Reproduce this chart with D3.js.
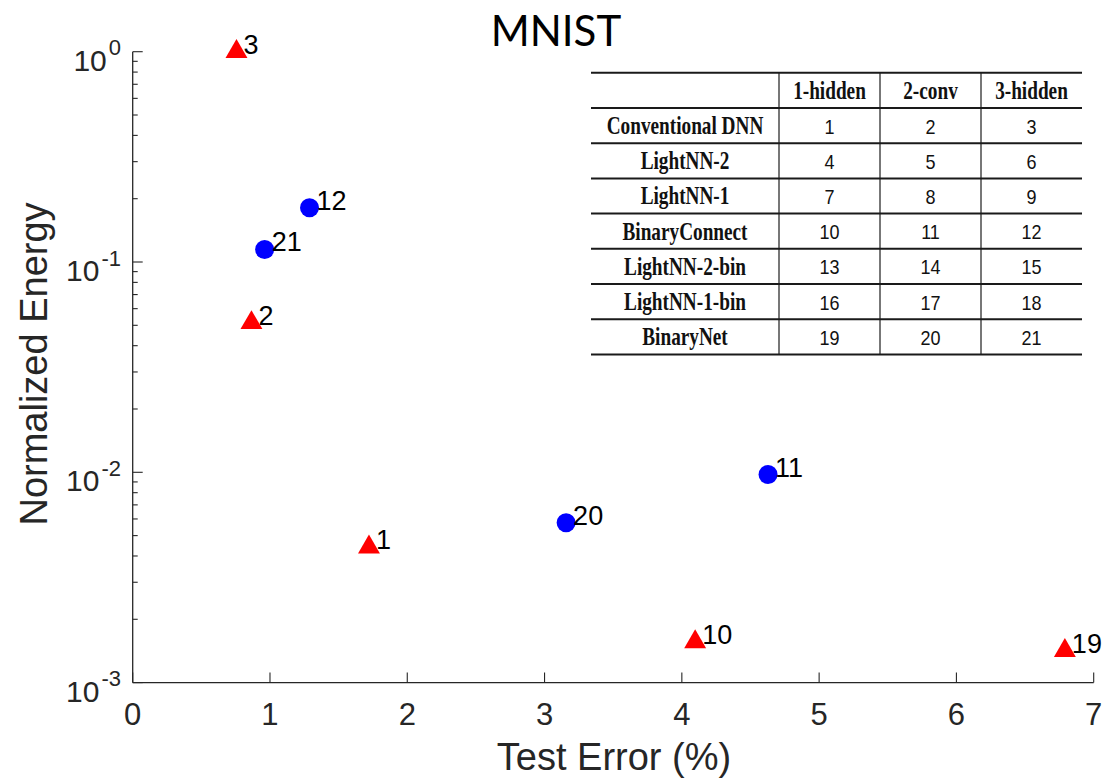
<!DOCTYPE html>
<html>
<head>
<meta charset="utf-8">
<script src="https://cdn.jsdelivr.net/npm/d3@7/dist/d3.min.js"></script>
<style>
  body { margin: 0; background: #fff; }
  svg { display: block; }
</style>
</head>
<body>
<div id="chart"></div>
<script>
// scatter points: label, test error (%), normalized energy
var triIds    = [3, 2, 1, 10, 19];
var triError  = [0.756, 0.865, 1.721, 4.097, 6.79];
var triEnergy = [1.0, 0.0514, 0.00441, 0.00156, 0.00142];

var dotIds    = [12, 21, 20, 11];
var dotError  = [1.288, 0.961, 3.157, 4.628];
var dotEnergy = [0.181, 0.1147, 0.00575, 0.00976];

var xTicks = [0, 1, 2, 3, 4, 5, 6, 7];
var yExps  = [0, -1, -2, -3];

// legend table
var tableCols = ["1-hidden", "2-conv", "3-hidden"];
var tableRows = ["Conventional DNN", "LightNN-2", "LightNN-1", "BinaryConnect",
                 "LightNN-2-bin", "LightNN-1-bin", "BinaryNet"];
var tableIds  = [[1, 2, 3], [4, 5, 6], [7, 8, 9], [10, 11, 12],
                 [13, 14, 15], [16, 17, 18], [19, 20, 21]];

var W = 1104, H = 778;
var axisColor = "#262626";
var sans = "'Liberation Sans', Arial, Helvetica, sans-serif";

var svg = d3.select("#chart")
            .append("svg")
            .attr("width", W)
            .attr("height", H);

var x = d3.scaleLinear().domain([0, 7]).range([132.7, 1093.7]);
var y = d3.scaleLog().domain([1e-3, 1]).range([682.6, 51.7]);

// axes lines
svg.append("line")
    .attr("x1", x(0)).attr("x2", x(7))
    .attr("y1", y(1e-3)).attr("y2", y(1e-3))
    .attr("stroke", axisColor).attr("stroke-width", 1.3);
svg.append("line")
    .attr("x1", x(0)).attr("x2", x(0))
    .attr("y1", y(1e-3)).attr("y2", y(1))
    .attr("stroke", axisColor).attr("stroke-width", 1.3);

// x ticks (inward)
svg.selectAll("line.xtick")
    .data(xTicks)
    .enter()
    .append("line")
    .attr("class", "xtick")
    .attr("x1", function(d) { return x(d); })
    .attr("x2", function(d) { return x(d); })
    .attr("y1", y(1e-3))
    .attr("y2", y(1e-3) - 10)
    .attr("stroke", axisColor).attr("stroke-width", 1.1);

svg.selectAll("text.xlab")
    .data(xTicks)
    .enter()
    .append("text")
    .attr("class", "xlab")
    .attr("x", function(d) { return x(d); })
    .attr("y", y(1e-3) + 42)
    .attr("text-anchor", "middle")
    .attr("font-family", sans)
    .attr("font-size", "31px")
    .attr("fill", axisColor)
    .text(function(d) { return d; });

// y ticks: majors and minors per decade
var yMinor = [];
yExps.forEach(function(e) {
    if (e === 0) return;
    for (var m = 2; m <= 9; m++) yMinor.push(m * Math.pow(10, e));
});

svg.selectAll("line.ymajor")
    .data(yExps)
    .enter()
    .append("line")
    .attr("class", "ymajor")
    .attr("x1", x(0)).attr("x2", x(0) + 10)
    .attr("y1", function(d) { return y(Math.pow(10, d)); })
    .attr("y2", function(d) { return y(Math.pow(10, d)); })
    .attr("stroke", axisColor).attr("stroke-width", 1.1);

svg.selectAll("line.yminor")
    .data(yMinor)
    .enter()
    .append("line")
    .attr("class", "yminor")
    .attr("x1", x(0)).attr("x2", x(0) + 5)
    .attr("y1", function(d) { return y(d); })
    .attr("y2", function(d) { return y(d); })
    .attr("stroke", axisColor).attr("stroke-width", 1.1);

var ylab = svg.selectAll("text.ylab")
    .data(yExps)
    .enter()
    .append("text")
    .attr("class", "ylab")
    .attr("x", 121)
    .attr("y", function(d) { return y(Math.pow(10, d)) + 19; })
    .attr("text-anchor", "end")
    .attr("font-family", sans)
    .attr("font-size", "30px")
    .attr("fill", axisColor);
ylab.append("tspan")
    .attr("font-size", "30px")
    .text("10");
ylab.append("tspan")
    .attr("font-size", "22px")
    .attr("dx", 2)
    .attr("dy", -15.5)
    .text(function(d) { return d; });

// axis titles
svg.append("text")
    .attr("x", 614)
    .attr("y", 770)
    .attr("text-anchor", "middle")
    .attr("font-family", sans)
    .attr("font-size", "38px")
    .attr("fill", axisColor)
    .text("Test Error (%)");

svg.append("text")
    .attr("transform", "translate(46.5,364) rotate(-90)")
    .attr("text-anchor", "middle")
    .attr("font-family", sans)
    .attr("font-size", "38px")
    .attr("fill", axisColor)
    .text("Normalized Energy");

svg.append("text")
    .attr("x", 556)
    .attr("y", 46)
    .attr("text-anchor", "middle")
    .attr("font-family", "Lato, 'Open Sans', sans-serif")
    .attr("font-size", "42px")
    .attr("fill", "#000")
    .text("MNIST");

// markers
var tri = triIds.map(function(id, i) { return {id: id, e: triError[i], v: triEnergy[i]}; });
var dot = dotIds.map(function(id, i) { return {id: id, e: dotError[i], v: dotEnergy[i]}; });

svg.selectAll("path.tri")
    .data(tri)
    .enter()
    .append("path")
    .attr("class", "tri")
    .attr("d", d3.symbol().type(d3.symbolTriangle).size(208))
    .attr("transform", function(d) { return "translate(" + x(d.e) + "," + y(d.v) + ")"; })
    .attr("fill", "#ff0000");

svg.selectAll("circle.dot")
    .data(dot)
    .enter()
    .append("circle")
    .attr("class", "dot")
    .attr("cx", function(d) { return x(d.e); })
    .attr("cy", function(d) { return y(d.v); })
    .attr("r", 9.5)
    .attr("fill", "#0000ff");

svg.selectAll("text.ptlab")
    .data(tri.concat(dot))
    .enter()
    .append("text")
    .attr("class", "ptlab")
    .attr("x", function(d) { return x(d.e) + 7; })
    .attr("y", function(d) { return y(d.v) + 2; })
    .attr("font-family", sans)
    .attr("font-size", "27px")
    .attr("fill", "#000")
    .text(function(d) { return d.id; });

// table
var colEdges = [591, 779, 880, 981, 1082];
var rowTop = 72.7, headH = 35.3, rowH = 35.2;
var rowEdges = [rowTop, rowTop + headH];
tableRows.forEach(function(r, i) { rowEdges.push(rowTop + headH + rowH * (i + 1)); });
var tTop = rowEdges[0], tBot = rowEdges[rowEdges.length - 1];

var table = svg.append("g").attr("class", "table");

table.selectAll("line.vrule")
    .data(colEdges.slice(1, 4))
    .enter()
    .append("line")
    .attr("x1", function(d) { return d; })
    .attr("x2", function(d) { return d; })
    .attr("y1", tTop).attr("y2", tBot)
    .attr("stroke", "#555").attr("stroke-width", 1.6);

table.selectAll("line.hrule")
    .data(rowEdges)
    .enter()
    .append("line")
    .attr("x1", colEdges[0]).attr("x2", colEdges[4])
    .attr("y1", function(d) { return d; })
    .attr("y2", function(d) { return d; })
    .attr("stroke", "#1a1a1a").attr("stroke-width", 2);

function cellText(cx, base, txt, serif) {
    table.append("text")
        .attr("transform", "translate(" + cx + "," + base + ") scale(" + (serif ? 0.77 : 0.9) + ",1)")
        .attr("text-anchor", "middle")
        .attr("font-family", serif ? "'Liberation Serif', 'Times New Roman', serif" : sans)
        .attr("font-weight", serif ? "bold" : "normal")
        .attr("font-size", serif ? "25px" : "20px")
        .attr("fill", "#111")
        .text(txt);
}

tableCols.forEach(function(c, j) {
    cellText((colEdges[j + 1] + colEdges[j + 2]) / 2, rowEdges[0] + 26, c, true);
});
tableRows.forEach(function(r, i) {
    var base = rowEdges[i + 1] + 26;
    cellText((colEdges[0] + colEdges[1]) / 2, base, r, true);
    tableIds[i].forEach(function(n, j) {
        cellText((colEdges[j + 1] + colEdges[j + 2]) / 2, base - 0.5, n, false);
    });
});
</script>
</body>
</html>
